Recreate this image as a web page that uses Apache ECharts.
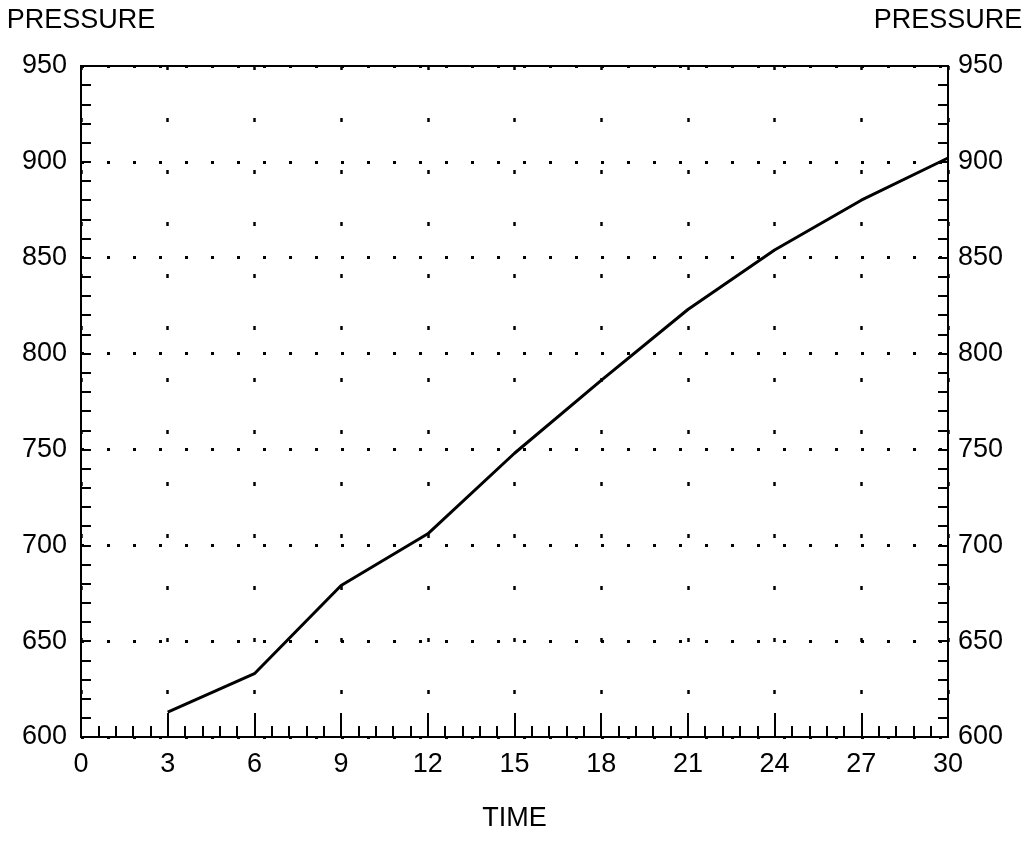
<!DOCTYPE html>
<html>
<head>
<meta charset="utf-8">
<script src="https://cdn.jsdelivr.net/npm/echarts@6/dist/echarts.min.js"></script>
<style>
  html, body { margin: 0; padding: 0; background: #fff; }
  #chart { width: 1035px; height: 855px; }
</style>
</head>
<body>
<div id="chart"></div>
<script>
// time (x) and pressure (y)
const timeData = [3, 6, 9, 12, 15, 18, 21, 24, 27, 30]
const pressureData = [613, 633, 679, 706, 748, 786, 823, 854, 880, 902]
const xTicks = { min: 0, max: 30, interval: 3 }
const yTicks = { min: 600, max: 950, interval: 50 }

const font = '"Liberation Sans", "DejaVu Sans", sans-serif'

let myChart = echarts.init(document.getElementById('chart'))

// y axis shared settings (left + right)
function yAxisOf(pos, labelMargin) {
  return {
    type: 'value',
    position: pos,
    min: yTicks.min,
    max: yTicks.max,
    interval: yTicks.interval,
    name: 'PRESSURE',
    nameLocation: 'end',
    nameGap: 45,
    nameTextStyle: {
      color: '#000', fontFamily: font, fontSize: 27,
      align: 'center', verticalAlign: 'middle'
    },
    axisLine: { show: true, lineStyle: { color: '#000', width: 2 } },
    axisTick: { show: true, inside: true, length: 10, lineStyle: { color: '#000', width: 2 } },
    minorTick: { show: true, splitNumber: 5, length: 10, lineStyle: { color: '#000', width: 2 } },
    axisLabel: { color: '#000', fontFamily: font, fontSize: 27, margin: labelMargin, padding: [8, 0, 0, 0] },
    splitLine: { show: false }
  }
}

let leftY = yAxisOf('left', 14)
// horizontal dotted grid lines
leftY.splitLine = {
  show: true,
  lineStyle: { color: '#000', width: 3, type: [3, 23] }
}

let option = {
  animation: false,
  backgroundColor: '#fff',
  grid: {
    left: 81, right: 87, top: 66, bottom: 118,
    show: true, borderColor: '#000', borderWidth: 2
  },
  xAxis: {
    type: 'value',
    min: xTicks.min,
    max: xTicks.max,
    interval: xTicks.interval,
    name: 'TIME',
    nameLocation: 'middle',
    nameGap: 68,
    nameTextStyle: { color: '#000', fontFamily: font, fontSize: 27 },
    axisLine: { show: true, lineStyle: { color: '#000', width: 2 } },
    axisTick: { show: true, inside: true, length: 24, lineStyle: { color: '#000', width: 2 } },
    minorTick: { show: true, splitNumber: 5, length: 11, lineStyle: { color: '#000', width: 2 } },
    axisLabel: { color: '#000', fontFamily: font, fontSize: 27, margin: 14 },
    // vertical dotted grid lines
    splitLine: { show: true, lineStyle: { color: '#000', width: 2.5, type: [4, 48] } }
  },
  yAxis: [leftY, yAxisOf('right', 10)],
  series: [
    {
      type: 'line',
      data: timeData.map((t, i) => [t, pressureData[i]]),
      showSymbol: false,
      smooth: false,
      lineStyle: { color: '#000', width: 3 }
    }
  ]
}

myChart.setOption(option)
</script>
</body>
</html>
